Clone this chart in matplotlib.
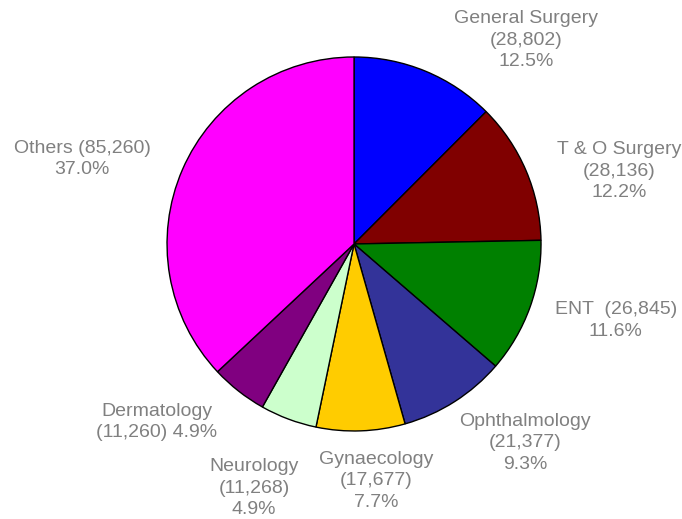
import matplotlib.pyplot as plt

plt.rcParams['font.family'] = ['Liberation Sans', 'DejaVu Sans']

specialties = ["General Surgery", "T & O Surgery", "ENT", "Ophthalmology",
               "Gynaecology", "Neurology", "Dermatology", "Others"]
counts = [28802, 28136, 26845, 21377, 17677, 11268, 11260, 85260]
colors = ["#0000FF", "#800000", "#008000", "#333399",
          "#FFCC00", "#CCFFCC", "#800080", "#FF00FF"]

# how each label is broken into lines
label_fmt = ["{n}\n({c})\n{p}", "{n}\n({c})\n{p}", "{n}  ({c})\n{p}", "{n}\n({c})\n{p}",
             "{n}\n({c})\n{p}", "{n}\n({c})\n{p}", "{n}\n({c}) {p}", "{n} ({c})\n{p}"]
# label anchor points (pie radius = 1)
label_pos = [(0.92, 1.09), (1.417, 0.39), (1.40, -0.41), (0.914, -1.064),
             (0.118, -1.267), (-0.535, -1.305), (-1.056, -0.952), (-1.455, 0.455)]

total = sum(counts)

fig = plt.figure(figsize=(6.82, 5.19), dpi=100)
ax = fig.add_axes([0.2449, 0.1696, 0.5484, 0.7206])

ax.pie(counts, colors=colors, startangle=90, counterclock=False, radius=1,
       wedgeprops=dict(edgecolor="black", linewidth=1.0))
ax.set_xlim(-1, 1)
ax.set_ylim(-1, 1)
ax.set_aspect("equal")
ax.axis("off")

for name, c, fmt, (x, y) in zip(specialties, counts, label_fmt, label_pos):
    txt = fmt.format(n=name, c=f"{c:,}", p=f"{100 * c / total:.1f}%")
    ax.text(x, y, txt, ha="center", va="center", multialignment="center",
            fontsize=14, color="#808080", linespacing=1.35, clip_on=False)

fig.savefig("out.png", dpi=100)
